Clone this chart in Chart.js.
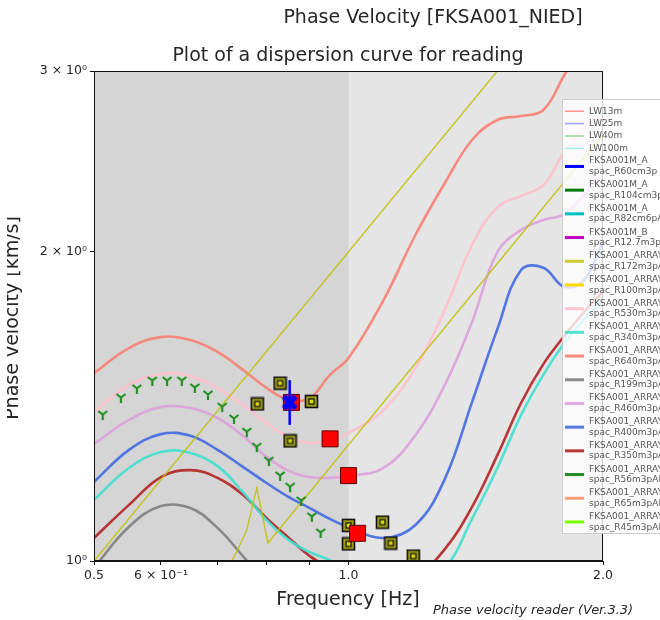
<!DOCTYPE html>
<html>
<head>
<meta charset="utf-8">
<script src="https://cdn.jsdelivr.net/npm/chart.js@4.4.0/dist/chart.umd.min.js"></script>
<style>
  html, body { margin: 0; padding: 0; background: #fff; }
  canvas { display: block; }
</style>
</head>
<body>
<canvas id="dispersionChart" width="660" height="620"></canvas>
<script>
// frequency samples [Hz] for the model curves
var freqGrid = [0.5, 0.55, 0.6, 0.65, 0.7, 0.75, 0.8, 0.85, 0.9, 0.95, 1.0, 1.1, 1.2, 1.3, 1.4, 1.5, 1.6, 1.7, 1.8, 1.9, 2.0];

// phase velocity [km/s] of each array
var velR640 = [1.524, 1.612, 1.652, 1.641, 1.598, 1.535, 1.474, 1.435, 1.441, 1.517, 1.576, 1.795, 2.077, 2.334, 2.570, 2.688, 2.712, 2.749, 2.973, 3.2, 3.6];
var velR530 = [1.397, 1.484, 1.521, 1.514, 1.474, 1.419, 1.363, 1.320, 1.303, 1.312, 1.332, 1.403, 1.541, 1.756, 2.031, 2.211, 2.267, 2.323, 2.502, 2.640, 2.731];
var velR460 = [1.300, 1.372, 1.412, 1.409, 1.378, 1.324, 1.263, 1.224, 1.207, 1.205, 1.210, 1.232, 1.326, 1.484, 1.709, 1.999, 2.101, 2.148, 2.177, 2.272, 2.376];
var velR400 = [1.194, 1.283, 1.329, 1.324, 1.283, 1.235, 1.191, 1.154, 1.126, 1.099, 1.079, 1.053, 1.084, 1.202, 1.428, 1.682, 1.920, 1.930, 1.849, 1.878, 2.045];
var velR340 = [1.147, 1.232, 1.277, 1.274, 1.237, 1.167, 1.096, 1.048, 1.020, 1.002, 0.975, 0.950, 0.955, 0.985, 1.099, 1.232, 1.387, 1.518, 1.630, 1.720, 1.800];
var velR350 = [1.053, 1.134, 1.207, 1.226, 1.205, 1.160, 1.101, 1.053, 1.011, 0.985, 0.965, 0.945, 0.965, 1.027, 1.129, 1.268, 1.425, 1.555, 1.656, 1.748, 1.830];
var freqR199 = [0.5, 0.55, 0.6, 0.65, 0.7, 0.75, 0.8, 0.85];
var velR199 = [0.985, 1.080, 1.131, 1.126, 1.077, 1.011, 0.950, 0.900];

// R172 reading (jagged part then the long straight run)
var freqR172 = [0.715, 0.728, 0.744, 0.758, 0.779, 0.803, 2.0];
var velR172 = [0.980, 1.000, 1.037, 1.072, 1.178, 1.041, 2.600];

// wavelength guide line
var freqGuide = [0.5, 1.5];
var velGuide = [1.0, 3.0];

// picked points
var freqTri = [0.512, 0.538, 0.562, 0.586, 0.610, 0.635, 0.658, 0.682, 0.709, 0.732, 0.758, 0.779, 0.805, 0.830, 0.853, 0.879, 0.905, 0.927];
var velTri = [1.387, 1.441, 1.471, 1.497, 1.497, 1.497, 1.474, 1.451, 1.412, 1.375, 1.335, 1.291, 1.251, 1.210, 1.180, 1.144, 1.104, 1.065];
var freqBox = [0.830, 0.780, 0.904, 0.853, 1.0, 1.0, 1.097, 1.122, 1.193];
var velBox = [1.490, 1.422, 1.430, 1.309, 1.083, 1.039, 1.091, 1.041, 1.011];
var freqRed = [0.856, 0.951, 1.0, 1.025];
var velRed = [1.427, 1.315, 1.211, 1.064];
var freqPick = [0.852];
var velPick = [1.427];
var velPickLow = [1.357];
var velPickHigh = [1.500];

// axis ticks
var xTickValues = [0.5, 0.6, 0.7, 0.8, 0.9, 1.0, 2.0];
var xTickLabels = ['0.5', '6 \u00d7 10\u207b\u00b9', '', '', '', '1.0', '2.0'];
var yTickValues = [1, 2, 3];
var yTickLabels = ['10\u2070', '2 \u00d7 10\u2070', '3 \u00d7 10\u2070'];

function pts(xs, ys) {
	return xs.map(function(x, i) { return { x: x, y: ys[i] }; });
}

function curve(label, color, xs, ys) {
	return {
		label: label, inLegend: true,
		data: pts(xs, ys),
		borderColor: color, borderWidth: 2.6,
		pointRadius: 0, tension: 0.4, fill: false, order: 10
	};
}

function legendOnly(label, color) {
	return { label: label, inLegend: true, data: [], borderColor: color, pointRadius: 0, order: 20 };
}

// marker images
function triMarker(color) {
	var c = document.createElement('canvas');
	c.width = 12; c.height = 12;
	var g = c.getContext('2d');
	g.strokeStyle = color; g.lineWidth = 2.2;
	g.beginPath();
	g.moveTo(6, 5.5); g.lineTo(6, 11);
	g.moveTo(6, 5.5); g.lineTo(1.5, 2);
	g.moveTo(6, 5.5); g.lineTo(10.5, 2);
	g.stroke();
	return c;
}
function boxMarker() {
	var c = document.createElement('canvas');
	c.width = 15; c.height = 15;
	var g = c.getContext('2d');
	g.fillStyle = '#9c9c18';
	g.fillRect(1, 1, 13, 13);
	g.strokeStyle = '#111'; g.lineWidth = 1.6;
	g.strokeRect(1.5, 1.5, 12, 12);
	g.fillStyle = '#dada10';
	g.fillRect(5, 5, 5, 5);
	g.lineWidth = 1.2;
	g.strokeRect(5, 5, 5, 5);
	return c;
}
function xMarker(color) {
	var c = document.createElement('canvas');
	c.width = 18; c.height = 18;
	var g = c.getContext('2d');
	g.strokeStyle = color; g.lineWidth = 5.5;
	g.beginPath();
	g.moveTo(3, 3); g.lineTo(15, 15);
	g.moveTo(15, 3); g.lineTo(3, 15);
	g.stroke();
	return c;
}

var textPlugin = {
	id: 'texts',
	beforeDraw: function(chart) {
		var ctx = chart.ctx;
		ctx.save();
		ctx.fillStyle = '#fff';
		ctx.fillRect(0, 0, chart.width, chart.height);
		ctx.restore();
	},
	beforeDatasetsDraw: function(chart) {
		var ctx = chart.ctx, a = chart.chartArea;
		var xMid = chart.scales.x.getPixelForValue(1.0);
		ctx.save();
		ctx.fillStyle = '#e5e5e5';
		ctx.fillRect(a.left, a.top, a.right - a.left, a.bottom - a.top);
		ctx.fillStyle = '#d5d5d5';
		ctx.fillRect(a.left, a.top, xMid - a.left, a.bottom - a.top);
		ctx.restore();
	},
	afterDatasetsDraw: function(chart) {
		var ctx = chart.ctx, a = chart.chartArea;
		ctx.save();
		ctx.strokeStyle = '#111';
		ctx.lineWidth = 1;
		ctx.strokeRect(a.left + 0.5, a.top + 0.5, a.right - a.left - 1, a.bottom - a.top - 1);
		ctx.fillStyle = '#262626';
		ctx.textAlign = 'center';
		ctx.textBaseline = 'middle';
		ctx.font = '19px "DejaVu Sans"';
		ctx.fillText('Phase Velocity [FKSA001_NIED]', 433, 18);
		ctx.fillText('Plot of a dispersion curve for reading', 348, 56);
		ctx.fillText('Frequency [Hz]', 348, 600);
		ctx.textAlign = 'left';
		ctx.font = 'italic 13px "DejaVu Sans"';
		ctx.fillText('Phase velocity reader (Ver.3.3)', 433, 611);
		// y title, cut on the left like the original figure crop
		ctx.beginPath();
		ctx.rect(7, 0, 60, chart.height);
		ctx.clip();
		ctx.translate(17.5, 318);
		ctx.rotate(-Math.PI / 2);
		ctx.textAlign = 'center';
		ctx.textBaseline = 'alphabetic';
		ctx.font = '19px "DejaVu Sans"';
		ctx.fillText('Phase velocity [km/s]', 0, 0);
		ctx.restore();
	},
	afterDraw: function(chart) {
		var ctx = chart.ctx;
		var items = chart.data.datasets.filter(function(d) { return d.inLegend; });
		ctx.save();
		ctx.fillStyle = 'rgba(255,255,255,0.8)';
		ctx.strokeStyle = '#cccccc';
		ctx.lineWidth = 1;
		ctx.beginPath();
		ctx.rect(562.5, 99.5, 120, 434);
		ctx.fill();
		ctx.stroke();
		ctx.font = '9px "DejaVu Sans"';
		ctx.textBaseline = 'middle';
		ctx.textAlign = 'left';
		var cy = 105;
		items.forEach(function(d) {
			var lines = d.label.split('\n');
			var h = lines.length > 1 ? 23.7 : 12.4;
			var mid = cy + h / 2;
			ctx.strokeStyle = d.borderColor;
			ctx.lineWidth = lines.length > 1 ? 3 : 1.5;
			ctx.beginPath();
			ctx.moveTo(565, mid);
			ctx.lineTo(584, mid);
			ctx.stroke();
			ctx.fillStyle = '#555';
			if (lines.length > 1) {
				ctx.fillText(lines[0], 589, mid - 5.3);
				ctx.fillText(lines[1], 589, mid + 5.3);
			} else {
				ctx.fillText(lines[0], 589, mid);
			}
			cy += h;
		});
		ctx.restore();
	}
};

var curveR172 = curve('FKSA001_ARRAY\nspac_R172m3pA', 'rgba(191,191,0,0.8)', freqR172, velR172);
curveR172.borderWidth = 1.5;
curveR172.tension = 0;

var datasets = [
	legendOnly('LW13m', '#ff8f8f'),
	legendOnly('LW25m', '#a0a0f8'),
	legendOnly('LW40m', '#9cd49c'),
	legendOnly('LW100m', '#a8eeee'),
	legendOnly('FKSA001M_A\nspac_R60cm3p', '#0000ff'),
	legendOnly('FKSA001M_A\nspac_R104cm3p', '#008000'),
	legendOnly('FKSA001M_A\nspac_R82cm6pA', '#00bfbf'),
	legendOnly('FKSA001M_B\nspac_R12.7m3p', '#bf00bf'),
	curveR172,
	legendOnly('FKSA001_ARRAY\nspac_R100m3pA', '#ffd700'),
	curve('FKSA001_ARRAY\nspac_R530m3pA', 'rgba(255,192,203,0.9)', freqGrid, velR530),
	curve('FKSA001_ARRAY\nspac_R340m3pA', 'rgba(64,224,208,0.9)', freqGrid, velR340),
	curve('FKSA001_ARRAY\nspac_R640m3pA', 'rgba(250,128,114,0.9)', freqGrid, velR640),
	curve('FKSA001_ARRAY\nspac_R199m3pA', 'rgba(128,128,128,0.9)', freqR199, velR199),
	curve('FKSA001_ARRAY\nspac_R460m3pA', 'rgba(221,160,221,0.9)', freqGrid, velR460),
	curve('FKSA001_ARRAY\nspac_R400m3pA', 'rgba(65,105,225,0.9)', freqGrid, velR400),
	curve('FKSA001_ARRAY\nspac_R350m3pA', 'rgba(178,34,34,0.9)', freqGrid, velR350),
	legendOnly('FKSA001_ARRAY\nspac_R56m3pAP', '#228b22'),
	legendOnly('FKSA001_ARRAY\nspac_R65m3pAP', '#ffa07a'),
	legendOnly('FKSA001_ARRAY\nspac_R45m3pAP', '#7cfc00'),
	{
		data: pts(freqGuide, velGuide), borderColor: 'rgba(191,191,0,0.8)', borderWidth: 1.5,
		pointRadius: 0, tension: 0, order: 9
	},
	{
		data: pts(freqTri, velTri), showLine: false, pointStyle: triMarker('#1f8f1f'),
		pointRadius: 6, order: 4
	},
	{
		data: pts(freqBox, velBox), showLine: false, pointStyle: boxMarker(),
		pointRadius: 7, order: 3
	},
	{
		data: pts(freqRed, velRed), showLine: false, pointStyle: 'rect', pointRadius: 11.3,
		pointBackgroundColor: '#ff0000', pointBorderColor: '#5a0000', pointBorderWidth: 1, order: 2
	},
	{
		data: pts(freqPick.concat(freqPick), velPickLow.concat(velPickHigh)), borderColor: '#0000ff',
		borderWidth: 2.5, pointRadius: 0, tension: 0, order: 1
	},
	{
		data: pts(freqPick, velPick), showLine: false, pointStyle: xMarker('#0000ff'),
		pointRadius: 9, order: 0
	}
];

Chart.defaults.font.family = '"DejaVu Sans"';

var dispersionChart = new Chart(document.getElementById('dispersionChart'), {
	type: 'line',
	data: { datasets: datasets },
	options: {
		responsive: false,
		animation: false,
		devicePixelRatio: 1,
		events: [],
		layout: { padding: { top: 71, right: 57, left: 0, bottom: 0 } },
		plugins: { legend: { display: false }, tooltip: { enabled: false } },
		scales: {
			x: {
				type: 'logarithmic', min: 0.5, max: 2.0,
				afterBuildTicks: function(s) { s.ticks = xTickValues.map(function(v) { return { value: v }; }); },
				afterFit: function(s) { s.height = 59; },
				ticks: {
					autoSkip: false, maxRotation: 0, padding: 3, color: '#262626',
					font: { size: 12.5 },
					callback: function(v, i) { return xTickLabels[i]; }
				},
				grid: { drawOnChartArea: false, tickLength: 4, color: '#111' },
				border: { color: '#111', width: 1 }
			},
			y: {
				type: 'logarithmic', min: 1, max: 3,
				afterBuildTicks: function(s) { s.ticks = yTickValues.map(function(v) { return { value: v }; }); },
				afterFit: function(s) { s.width = 94; },
				ticks: {
					autoSkip: false, padding: 3, color: '#262626',
					font: { size: 12.5 },
					callback: function(v, i) { return yTickLabels[i]; }
				},
				grid: { drawOnChartArea: false, tickLength: 4, color: '#111' },
				border: { color: '#111', width: 1 }
			}
		}
	},
	plugins: [textPlugin]
});
</script>
</body>
</html>
